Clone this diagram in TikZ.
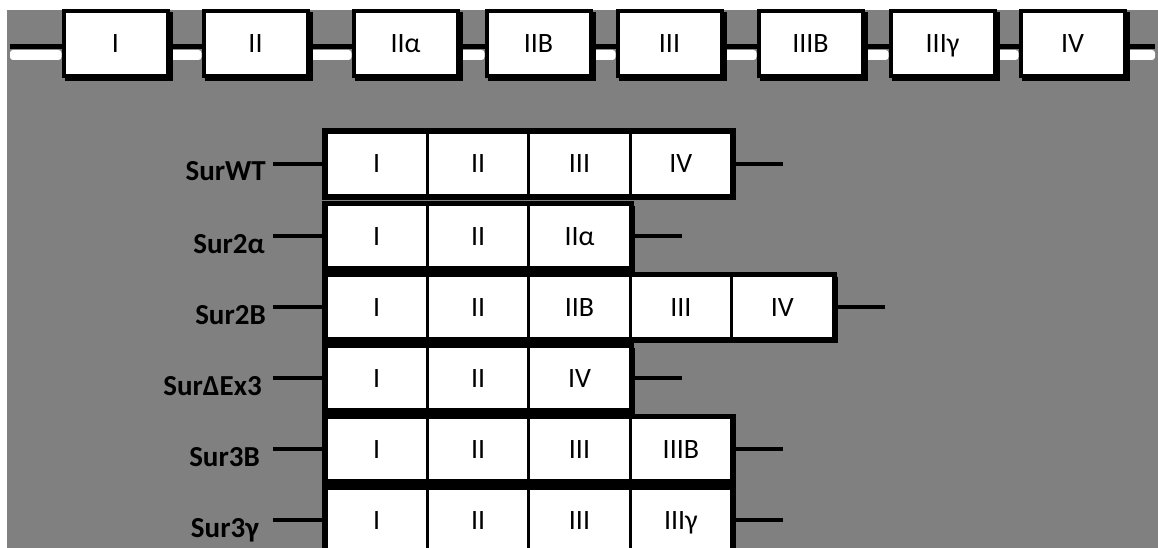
\documentclass[tikz,border=0pt]{standalone}
\usepackage{fontspec}
\setmainfont{Carlito}
\usetikzlibrary{backgrounds,calc}
\definecolor{bg}{RGB}{128,128,128}
\begin{document}
\begin{tikzpicture}[x=1pt,y=-1pt,
  cell/.style={draw=black, line width=3pt, fill=white, inner sep=0pt,
    minimum width=101.4pt, minimum height=63pt, text height=18pt, text depth=0pt,
    font=\fontsize{28}{30}\selectfont},
  topbox/.style={draw=black, line width=4pt, fill=white, inner sep=0pt,
    minimum width=104pt, minimum height=65pt, text height=18pt, text depth=0pt,
    font=\fontsize{28}{30}\selectfont},
  lab/.style={anchor=base east, inner sep=0pt, font=\bfseries\fontsize{29}{31}\selectfont},
  wire/.style={line width=4pt, black},
  frame/.style={line width=5pt, black},
  shade/.style={fill=black},
]
\useasboundingbox (0,0) rectangle (1158,548);
\begin{scope}[on background layer]
  \fill[white] (0,0) rectangle (1158,548);
  \fill[bg] (7,10) rectangle (1158,548);
\end{scope}

% ---------- top row ----------
\coordinate (t0) at (10,44);
\coordinate (t9) at (1155,44);
\node[topbox] (t1) at (115.5,44) {I};
\node[topbox] (t2) at (255.5,44) {II};
\node[topbox] (t3) at (405.5,44) {IIα};
\node[topbox] (t4) at (538.5,44) {IIB};
\node[topbox] (t5) at (669.5,44) {III};
\node[topbox] (t6) at (810.5,44) {IIIB};
\node[topbox] (t7) at (942.5,44) {IIIγ};
\node[topbox] (t8) at (1072.5,44) {IV};
\begin{scope}[on background layer]
  \foreach \a/\b in {t0/t1,t1/t2,t2/t3,t3/t4,t4/t5,t5/t6,t6/t7,t7/t8,t8/t9} {
    \fill[white, rounded corners=3pt] ($(\a.east)+(0,6)$) rectangle ($(\b.west)+(0,16)$);
    \draw[wire, line width=5pt] ($(\a.east)+(0,2.5)$) -- ($(\b.west)+(0,2.5)$);
  }
  \foreach \n in {t1,t2,t3,t4,t5,t6,t7,t8}
    \fill[shade] ($(\n.north west)+(3,3)$) rectangle ($(\n.south east)+(3,3)$);
\end{scope}

% ---------- construct rows ----------
% row a: SurWT
\foreach \t [count=\i] in {I,II,III,IV}
  \node[cell] (a\i) at ({326+101.4*(\i-0.5)},164) {\t};
\node[lab] (la) at (266,181) {SurWT};
\coordinate (ca) at (273,164);
\coordinate (da) at ($(a4.east)+(50,0)$);

% row b: Sur2alpha
\foreach \t [count=\i] in {I,II,IIα}
  \node[cell] (b\i) at ({326+101.4*(\i-0.5)},236) {\t};
\node[lab] (lb) at (265,253) {Sur2α};
\coordinate (cb) at (273,236);
\coordinate (db) at ($(b3.east)+(50,0)$);

% row c: Sur2B
\foreach \t [count=\i] in {I,II,IIB,III,IV}
  \node[cell] (c\i) at ({326+101.4*(\i-0.5)},307) {\t};
\node[lab] (lc) at (266,324) {Sur2B};
\coordinate (cc) at (273,307);
\coordinate (dc) at ($(c5.east)+(50,0)$);

% row d: SurDeltaEx3
\foreach \t [count=\i] in {I,II,IV}
  \node[cell] (d\i) at ({326+101.4*(\i-0.5)},378) {\t};
\node[lab] (ld) at (262,395) {SurΔEx3};
\coordinate (cd) at (273,378);
\coordinate (dd) at ($(d3.east)+(50,0)$);

% row e: Sur3B
\foreach \t [count=\i] in {I,II,III,IIIB}
  \node[cell] (e\i) at ({326+101.4*(\i-0.5)},449) {\t};
\node[lab] (le) at (260,466) {Sur3B};
\coordinate (ce) at (273,449);
\coordinate (de) at ($(e4.east)+(50,0)$);

% row f: Sur3gamma
\foreach \t [count=\i] in {I,II,III,IIIγ}
  \node[cell] (f\i) at ({326+101.4*(\i-0.5)},520) {\t};
\node[lab] (lf) at (259,537) {Sur3γ};
\coordinate (cf) at (273,520);
\coordinate (df) at ($(f4.east)+(50,0)$);

% frames
\foreach \r/\n in {a/4,b/3,c/5,d/3,e/4,f/4}
  \draw[frame] (\r1.north west) rectangle (\r\n.south east);

\begin{scope}[on background layer]
  \foreach \r/\n in {a/4,b/3,c/5,d/3,e/4,f/4} {
    \fill[shade] ($(\r1.north west)+(3,3)$) rectangle ($(\r\n.south east)+(3,3)$);
    \draw[wire] (c\r) -- (\r1.west);
    \draw[wire] (\r\n.east) -- (d\r);
  }
\end{scope}
\end{tikzpicture}
\end{document}
